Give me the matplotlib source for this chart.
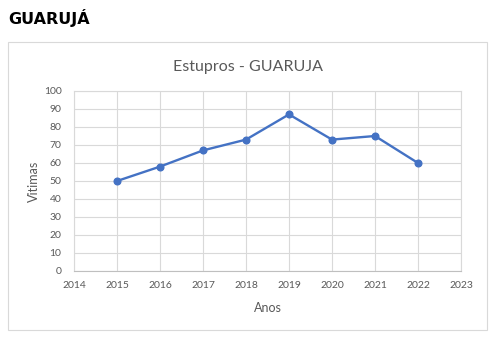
import matplotlib.pyplot as plt
from matplotlib.patches import Rectangle

anos = [2015, 2016, 2017, 2018, 2019, 2020, 2021, 2022]
vitimas = [50, 58, 67, 73, 87, 73, 75, 60]
x_ticks = list(range(2014, 2024))
y_ticks = list(range(0, 101, 10))

plt.rcParams['font.family'] = ['Lato', 'DejaVu Sans']
cinza = '#595959'

fig = plt.figure(figsize=(4.93, 3.38), dpi=100)
fig.patch.set_facecolor('white')

# moldura do grafico
fig.patches.append(Rectangle((8 / 493, 1 - 330 / 338), 479 / 493, 288 / 338,
                             transform=fig.transFigure, fill=False,
                             edgecolor='#d9d9d9', linewidth=0.8))

fig.text(8 / 493, 1 - 18 / 338, 'GUARUJÁ', family='DejaVu Sans',
         fontweight='bold', fontsize=11.5, va='center', ha='left', color='black')
fig.text(248 / 493, 1 - 67 / 338, 'Estupros - GUARUJA', fontsize=11.5,
         color=cinza, ha='center', va='center')

ax = fig.add_axes([74 / 493, 1 - 271 / 338, 387 / 493, 180 / 338])
ax.plot(anos, vitimas, color='#4472C4', linewidth=1.7, marker='o',
        markersize=4.8, zorder=3)

ax.set_xlim(2014, 2023)
ax.set_ylim(0, 100)
ax.set_xticks(x_ticks)
ax.set_yticks(y_ticks)
ax.grid(True, color='#d9d9d9', linewidth=0.8)
ax.set_axisbelow(True)
for s in ax.spines.values():
    s.set_color('#d9d9d9')
    s.set_linewidth(0.8)
ax.spines['bottom'].set_color('#bfbfbf')
ax.tick_params(length=0, labelsize=7.5, labelcolor=cinza)
ax.tick_params(axis='y', pad=9)
ax.tick_params(axis='x', pad=7)

ax.set_xlabel('Anos', fontsize=9, color=cinza, labelpad=9)
ax.set_ylabel('Vitimas', fontsize=9, color=cinza, labelpad=3)

fig.savefig('out.png', dpi=100)
